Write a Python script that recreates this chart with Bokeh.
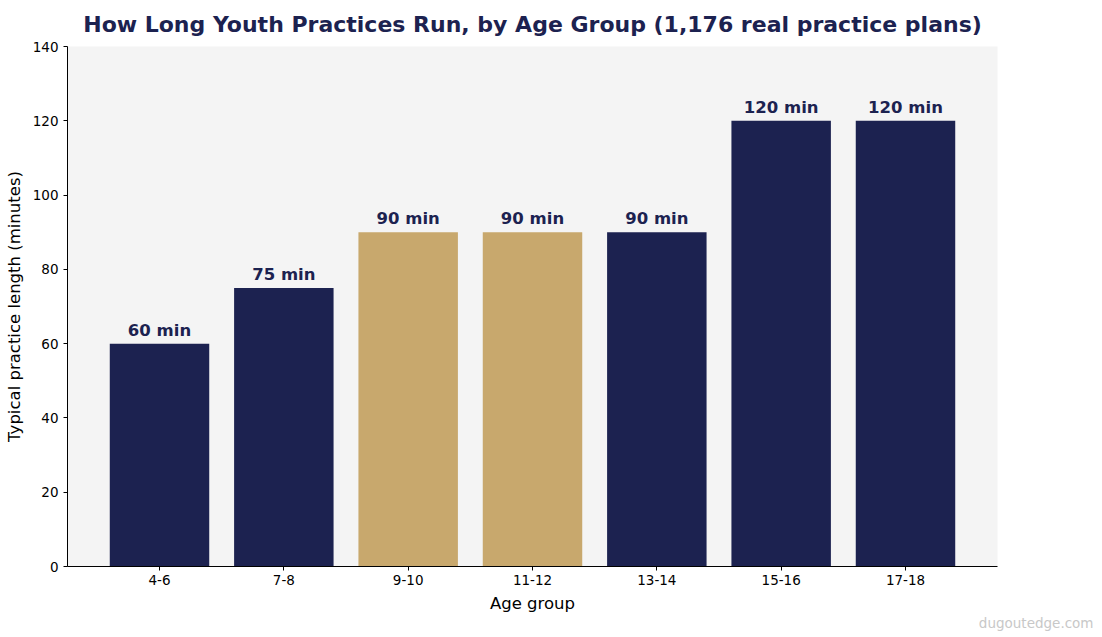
from bokeh.core.properties import value
from bokeh.embed import file_html
from bokeh.models import ColumnDataSource, FactorRange, FixedTicker, Range1d, Title
from bokeh.plotting import figure
from bokeh.resources import INLINE

NAVY = "#1c2250"
GOLD = "#c8a86d"
FONT = "DejaVu Sans"

age_groups = ["4-6", "7-8", "9-10", "11-12", "13-14", "15-16", "17-18"]
minutes = [60, 75, 90, 90, 90, 120, 120]
highlight_groups = ["9-10", "11-12"]
y_ticks = [0, 20, 40, 60, 80, 100, 120, 140]

source = ColumnDataSource(data=dict(
    group=age_groups,
    minutes=minutes,
    label=[f"{m} min" for m in minutes],
    color=[GOLD if g in highlight_groups else NAVY for g in age_groups],
))

p = figure(
    width=1102,
    height=637,
    x_range=FactorRange(factors=age_groups, range_padding=0.48 / 7),
    y_range=Range1d(0, 140),
    title="How Long Youth Practices Run, by Age Group (1,176 real practice plans)",
    x_axis_label="Age group",
    y_axis_label="Typical practice length (minutes)",
    toolbar_location=None,
    tools="",
    output_backend="svg",
    min_border_left=67,
    min_border_right=105,
    min_border_bottom=71,
    min_border_top=0,
)

p.vbar(x="group", top="minutes", width=0.8, color="color", line_width=0,
       source=source)
p.text(x="group", y="minutes", text="label", source=source,
       text_align="center", text_baseline="bottom", y_offset=-4,
       text_font=value(FONT), text_font_style="bold",
       text_font_size="16.5px", text_color=NAVY)

# Adjust plot settings
p.title.align = "center"
p.title.text_font = FONT
p.title.text_font_size = "22px"
p.title.text_color = NAVY
p.title.text_font_style = "bold"
p.title.offset = 0
p.title.standoff = 19

p.background_fill_color = "#f4f4f4"
p.border_fill_color = "white"
p.outline_line_color = None
p.grid.visible = False

p.yaxis.ticker = FixedTicker(ticks=y_ticks)
for ax in p.axis:
    ax.axis_line_color = "black"
    ax.major_tick_line_color = "black"
    ax.major_tick_in = 0
    ax.major_tick_out = 4
    ax.minor_tick_line_color = None
    ax.major_label_text_font = FONT
    ax.major_label_text_font_size = "13.5px"
    ax.major_label_text_color = "black"
    ax.axis_label_text_font = FONT
    ax.axis_label_text_font_size = "16.5px"
    ax.axis_label_text_font_style = "normal"
    ax.axis_label_text_color = "black"
p.xaxis.major_label_standoff = 4
p.xaxis.axis_label_standoff = 6
p.yaxis.major_label_standoff = 5
p.yaxis.axis_label_standoff = 6

# watermark, bottom right corner
p.add_layout(Title(
    text="dugoutedge.com", align="right", offset=-96, standoff=-6,
    text_font=FONT, text_font_size="13.5px", text_font_style="normal",
    text_color="#c8c8c8",
), "below")

open("out.html", "w").write(file_html(p, INLINE))
